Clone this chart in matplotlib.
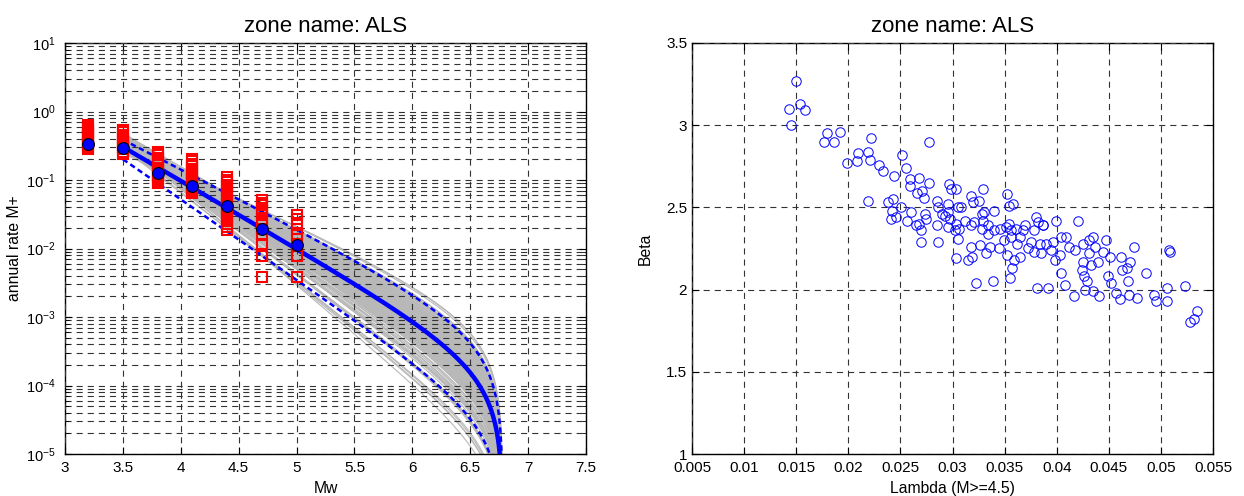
import numpy as np
import matplotlib
matplotlib.use("Agg")
import matplotlib.pyplot as plt
from matplotlib.ticker import FixedLocator, FuncFormatter, LogFormatterSciNotation, NullFormatter

plt.rcParams["font.family"] = ["Liberation Sans", "DejaVu Sans"]
plt.rcParams["mathtext.fontset"] = "custom"
plt.rcParams["mathtext.rm"] = "Liberation Sans"
plt.rcParams["mathtext.it"] = "Liberation Sans:italic"

zone_name = "ALS"
m_ref = 4.5     # magnitude of the Lambda rate
m_min = 3.5
m_max = 6.78

# sampled (Lambda, Beta) pairs of the recurrence model
lam_samples = [
    0.0150, 0.0143, 0.0154, 0.0158, 0.0145, 0.0177, 0.0180, 0.0186, 0.0192, 0.0199,
    0.0208, 0.0209, 0.0219, 0.0221, 0.0222, 0.0229, 0.0233, 0.0219, 0.0244, 0.0252,
    0.0255, 0.0259, 0.0259, 0.0268, 0.0277, 0.0277, 0.0266, 0.0271, 0.0273, 0.0238,
    0.0243, 0.0242, 0.0241, 0.0246, 0.0251, 0.0256, 0.0260, 0.0265, 0.0268, 0.0270,
    0.0270, 0.0274, 0.0275, 0.0285, 0.0286, 0.0285, 0.0286, 0.0290, 0.0293, 0.0296,
    0.0296, 0.0298, 0.0296, 0.0302, 0.0297, 0.0299, 0.0303, 0.0305, 0.0305, 0.0308,
    0.0318, 0.0320, 0.0325, 0.0329, 0.0328, 0.0330, 0.0329, 0.0340, 0.0352, 0.0354,
    0.0358, 0.0380, 0.0382, 0.0387, 0.0399, 0.0420, 0.0435, 0.0431, 0.0447, 0.0474,
    0.0508, 0.0303, 0.0306, 0.0312, 0.0318, 0.0321, 0.0328, 0.0334, 0.0340, 0.0334,
    0.0346, 0.0351, 0.0354, 0.0356, 0.0361, 0.0368, 0.0370, 0.0378, 0.0387, 0.0356,
    0.0365, 0.0375, 0.0384, 0.0390, 0.0396, 0.0404, 0.0409, 0.0326, 0.0336, 0.0303,
    0.0315, 0.0319, 0.0323, 0.0339, 0.0355, 0.0357, 0.0359, 0.0365, 0.0381, 0.0392,
    0.0398, 0.0404, 0.0408, 0.0417, 0.0424, 0.0425, 0.0426, 0.0429, 0.0427, 0.0435,
    0.0433, 0.0441, 0.0440, 0.0449, 0.0452, 0.0451, 0.0457, 0.0461, 0.0463, 0.0467,
    0.0470, 0.0468, 0.0469, 0.0477, 0.0462, 0.0486, 0.0493, 0.0495, 0.0506, 0.0506,
    0.0509, 0.0523, 0.0528, 0.0532, 0.0535, 0.0372, 0.0378, 0.0385, 0.0395, 0.0403,
    0.0412, 0.0418, 0.0425, 0.0431, 0.0437, 0.0444, 0.0332, 0.0345, 0.0352, 0.0362,
    0.0349, 0.0318,
]
beta_samples = [
    3.27, 3.10, 3.13, 3.09, 3.00, 2.90, 2.95, 2.90, 2.96, 2.77,
    2.78, 2.83, 2.84, 2.79, 2.92, 2.76, 2.72, 2.54, 2.69, 2.82,
    2.74, 2.67, 2.63, 2.68, 2.65, 2.90, 2.59, 2.60, 2.56, 2.53,
    2.55, 2.48, 2.43, 2.44, 2.50, 2.42, 2.47, 2.39, 2.40, 2.36,
    2.29, 2.46, 2.43, 2.54, 2.50, 2.39, 2.29, 2.46, 2.45, 2.52,
    2.47, 2.43, 2.38, 2.36, 2.64, 2.61, 2.61, 2.50, 2.31, 2.50,
    2.57, 2.53, 2.54, 2.61, 2.46, 2.47, 2.42, 2.48, 2.58, 2.51,
    2.52, 2.44, 2.41, 2.39, 2.42, 2.42, 2.32, 2.30, 2.30, 2.26,
    2.24, 2.40, 2.37, 2.42, 2.39, 2.41, 2.37, 2.39, 2.36, 2.34,
    2.37, 2.38, 2.40, 2.36, 2.37, 2.36, 2.39, 2.36, 2.39, 2.32,
    2.32, 2.29, 2.28, 2.28, 2.29, 2.32, 2.32, 2.27, 2.26, 2.19,
    2.18, 2.20, 2.04, 2.05, 2.07, 2.13, 2.18, 2.20, 2.01, 2.01,
    2.18, 2.10, 2.03, 1.96, 2.12, 2.17, 2.08, 2.05, 2.00, 1.99,
    2.15, 1.96, 2.17, 2.08, 2.04, 2.20, 1.98, 1.94, 2.12, 2.13,
    2.17, 2.05, 1.97, 1.95, 2.20, 2.10, 1.97, 1.93, 2.01, 1.93,
    2.23, 2.02, 1.80, 1.82, 1.87, 2.25, 2.23, 2.22, 2.24, 2.21,
    2.26, 2.24, 2.28, 2.22, 2.26, 2.23, 2.22, 2.25, 2.21, 2.28,
    2.30, 2.26,
]

# (Lambda, Beta) of the central curve and of the lower / upper bounds
central_pair = (0.031, 2.28)
lower_pair = (0.0135, 2.70)
upper_pair = (0.052, 2.00)

# observed rates of M+ per magnitude bin
bin_mw = [3.2, 3.5, 3.8, 4.1, 4.4, 4.7, 5.0]
bin_mean = [0.33, 0.29, 0.126, 0.081, 0.042, 0.0195, 0.0114]
rates_32 = [0.28, 0.30, 0.32, 0.34, 0.36, 0.39, 0.42, 0.45, 0.48, 0.52, 0.56, 0.60, 0.64]
rates_35 = [0.24, 0.26, 0.28, 0.30, 0.32, 0.34, 0.37, 0.40, 0.43, 0.46, 0.50, 0.53]
rates_38 = [0.089, 0.096, 0.104, 0.112, 0.12, 0.13, 0.14, 0.15, 0.165, 0.18,
            0.195, 0.21, 0.23, 0.25, 0.26]
rates_41 = [0.064, 0.069, 0.074, 0.08, 0.086, 0.093, 0.1, 0.108, 0.117, 0.126,
            0.136, 0.147, 0.16, 0.173, 0.187, 0.2]
rates_44 = [0.0185, 0.0205, 0.0225, 0.025, 0.0275, 0.03, 0.033, 0.036, 0.04, 0.044,
            0.048, 0.053, 0.058, 0.064, 0.07, 0.077, 0.085, 0.093, 0.1, 0.109]
rates_47 = [0.0039, 0.0078, 0.0117, 0.0156, 0.0195, 0.0234, 0.0273, 0.0312, 0.0351,
            0.039, 0.0429, 0.0468, 0.0507]
rates_50 = [0.0039, 0.0078, 0.0117, 0.0156, 0.0195, 0.0234, 0.0273, 0.0312]
bin_rates = [rates_32, rates_35, rates_38, rates_41, rates_44, rates_47, rates_50]

mw = np.linspace(m_min, m_max, 400)


def recurrence(lam, beta):
    # truncated exponential rate of M+ scaled to Lambda at m_ref
    tail = np.exp(-beta * (m_max - m_ref))
    rate = lam * (np.exp(-beta * (mw - m_ref)) - tail) / (1 - tail)
    rate[rate <= 0] = 1e-9
    return rate


grid_style = dict(color="0.2", linewidth=0.8, linestyle=(0, (5.5, 4.5)))

fig = plt.figure(figsize=(12.44, 4.96), dpi=100)
ax1 = fig.add_axes([65 / 1244, 42 / 496, 521 / 1244, 411 / 496])
ax2 = fig.add_axes([692 / 1244, 42 / 496, 521 / 1244, 411 / 496])

# left: recurrence curves
for lam, beta in zip(lam_samples, beta_samples):
    ax1.plot(mw, recurrence(lam, beta), color=(0.72, 0.72, 0.72), linewidth=0.8, zorder=1)
ax1.plot(mw, recurrence(*central_pair), color="blue", linewidth=3.2, zorder=4)
for pair in (lower_pair, upper_pair):
    ax1.plot(mw, recurrence(*pair), color="blue", linewidth=1.8,
             linestyle=(0, (2.2, 1.4)), zorder=4)
for m, rates in zip(bin_mw, bin_rates):
    ax1.plot([m] * len(rates), rates, linestyle="none", marker="s", markersize=7,
             markerfacecolor="none", markeredgecolor="red", markeredgewidth=1.5, zorder=5)
ax1.plot(bin_mw, bin_mean, linestyle="none", marker="o", markersize=8.5,
         markerfacecolor="blue", markeredgecolor="black", markeredgewidth=0.8, zorder=6)

decades = 10.0 ** np.arange(-5, 2)
ax1.set_yscale("log")
ax1.set_xlim(3, 7.5)
ax1.set_ylim(1e-5, 10)
ax1.xaxis.set_major_locator(FixedLocator(np.arange(3, 7.51, 0.5)))
ax1.xaxis.set_major_formatter(FuncFormatter(lambda v, p: "%g" % v))
ax1.yaxis.set_major_locator(FixedLocator(decades))
ax1.yaxis.set_major_formatter(LogFormatterSciNotation())
ax1.yaxis.set_minor_locator(FixedLocator([d * s for d in decades[:-1] for s in range(2, 10)]))
ax1.yaxis.set_minor_formatter(NullFormatter())
ax1.set_axisbelow(False)
ax1.grid(True, which="major", axis="both", **grid_style)
ax1.grid(True, which="minor", axis="y", **grid_style)
ax1.set_xlabel("Mw", fontsize=11.3)
ax1.set_ylabel("annual rate M+", fontsize=11.3)
ax1.xaxis.set_label_coords(0.5, -0.066)
ax1.yaxis.set_label_coords(-0.083, 0.5)
ax1.set_title("zone name: %s" % zone_name, fontsize=16, pad=8)

# right: sampled parameters
ax2.plot(lam_samples, beta_samples, linestyle="none", marker="o", markersize=6.8,
         markerfacecolor="none", markeredgecolor="blue", markeredgewidth=0.7, zorder=4)
ax2.set_xlim(0.005, 0.055)
ax2.set_ylim(1, 3.5)
ax2.xaxis.set_major_locator(FixedLocator(np.arange(0.005, 0.0551, 0.005)))
ax2.yaxis.set_major_locator(FixedLocator(np.arange(1, 3.51, 0.5)))
ax2.xaxis.set_major_formatter(FuncFormatter(lambda v, p: "%g" % round(v, 3)))
ax2.yaxis.set_major_formatter(FuncFormatter(lambda v, p: "%g" % v))
ax2.set_axisbelow(False)
ax2.grid(True, which="major", **grid_style)
ax2.set_xlabel("Lambda (M>=4.5)", fontsize=11.3)
ax2.set_ylabel("Beta", fontsize=11.3)
ax2.xaxis.set_label_coords(0.5, -0.066)
ax2.yaxis.set_label_coords(-0.075, 0.5)
ax2.set_title("zone name: %s" % zone_name, fontsize=16, pad=8)

for ax in (ax1, ax2):
    ax.tick_params(which="both", direction="in", top=True, right=True)
    ax.tick_params(which="major", length=5, width=0.8)
    ax.tick_params(which="minor", length=3, width=0.6)
    ax.tick_params(axis="x", labelsize=11, pad=5)
    for s in ax.spines.values():
        s.set_linewidth(1.0)
ax1.tick_params(axis="y", labelsize=10.5, pad=7)
ax2.tick_params(axis="y", labelsize=11, pad=3.5)

fig.savefig("out.png", dpi=100)
